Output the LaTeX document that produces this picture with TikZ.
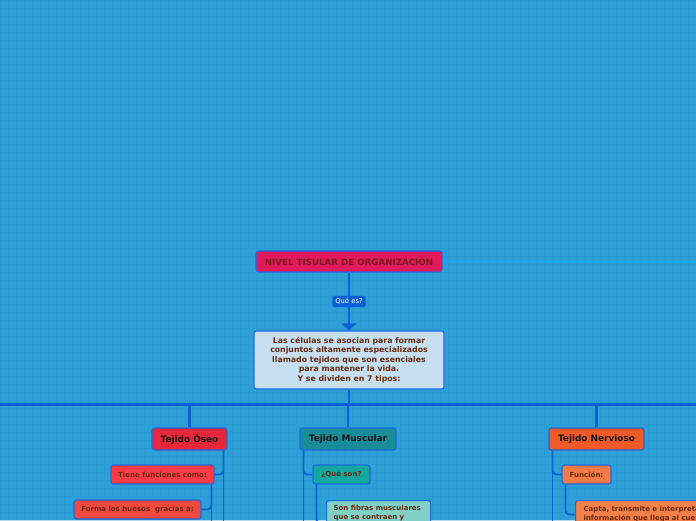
\documentclass[tikz,border=0pt]{standalone}
\usepackage{fontspec}
\setmainfont{DejaVu Sans}
\usetikzlibrary{arrows.meta}

\definecolor{fondo}{RGB}{46,160,216}
\definecolor{cuadro}{RGB}{38,148,206}
\definecolor{borde}{RGB}{30,105,222}
\definecolor{linea}{RGB}{12,96,214}
\definecolor{lineaclara}{RGB}{22,168,242}
\definecolor{tinta}{RGB}{25,20,20}
\definecolor{cafe}{RGB}{105,42,14}
\definecolor{rojizo}{RGB}{122,28,28}
\definecolor{raiz}{RGB}{226,26,92}
\definecolor{celeste}{RGB}{198,224,242}
\definecolor{oseo}{RGB}{232,40,58}
\definecolor{oseoA}{RGB}{255,60,70}
\definecolor{oseoB}{RGB}{240,72,62}
\definecolor{musc}{RGB}{24,140,152}
\definecolor{muscA}{RGB}{16,168,160}
\definecolor{muscB}{RGB}{128,208,200}
\definecolor{nerv}{RGB}{240,90,40}
\definecolor{nervA}{RGB}{242,122,70}
\definecolor{nervB}{RGB}{242,128,72}

\begin{document}
\begin{tikzpicture}[x=1pt,y=-1pt,
    caja/.style={
        draw=borde,
        line width=1.1pt,
        rounded corners=2.5pt,
        inner sep=0pt,
        align=center
    },
    tejido/.style={caja, minimum height=22pt, text=tinta,
        font=\bfseries\fontsize{8.9}{10}\selectfont},
    detalle/.style={caja, minimum height=19pt, text=cafe,
        font=\bfseries\fontsize{7}{9}\selectfont},
    enlace/.style={draw=linea, line width=1.8pt, rounded corners=4pt}
  ]
    % Fondo cuadriculado
    \useasboundingbox (0,0) rectangle (696,520);
    \clip (0,0) rectangle (696,520);
    \fill[fondo] (0,0) rectangle (696,520);
    \draw[cuadro, line width=0.8pt, opacity=0.35, step=8pt] (0,0) grid (696,520);

    % Nodo raiz y descripcion
    \node[caja, fill=raiz, minimum width=186pt, minimum height=21pt, text=rojizo,
          font=\bfseries\fontsize{8.7}{10}\selectfont] (raiz) at (349,261.5)
          {NIVEL TISULAR DE ORGANIZACIÓN};
    \node[caja, fill=celeste, minimum width=190pt, minimum height=58pt, text=cafe,
          font=\bfseries\fontsize{7.8}{9.5}\selectfont] (desc) at (349,360)
          {Las células se asocian para formar\\conjuntos altamente especializados\\llamado tejidos que son esenciales\\para mantener la vida.\\Y se dividen en 7 tipos:};

    % Los tres tejidos visibles
    \node[tejido, fill=oseo, minimum width=75pt] (tOseo) at (189.5,439) {Tejido Óseo};
    \node[tejido, fill=musc, minimum width=96pt] (tMusc) at (348,439) {Tejido Muscular};
    \node[tejido, fill=nerv, minimum width=95pt] (tNerv) at (596.5,439) {Tejido Nervioso};

    % Hijos de cada tejido
    \node[detalle, fill=oseoA, minimum width=103pt] (oFunc) at (162.5,474.5) {Tiene funciones como:};
    \node[detalle, fill=oseoB, minimum width=127pt] (oHues) at (137.5,509.5) {Forma los huesos~ gracias a:};
    \node[detalle, fill=muscA, minimum width=57pt] (mQue) at (341.5,474.5) {¿Qué son?};
    \node[detalle, fill=nervA, minimum width=49pt] (nFunc) at (586.5,474.5) {Función:};
    \node[detalle, fill=muscB, anchor=north west, inner xsep=7pt, inner ysep=5pt] (mFib) at (326,500)
          {\parbox[c][36pt][t]{90pt}{\raggedright Son fibras musculares\\que se contraen y}};
    \node[detalle, fill=nervB, anchor=north west, align=left, inner xsep=8pt, inner ysep=6pt] (nCap) at (575,500)
          {Capta, transmite e interpreta\\información que llega al cuerpo};

    % Extremos libres fuera del cuadro
    \coordinate (raizR) at (696,262);
    \coordinate (busL) at (0,404);
    \coordinate (busR) at (696,404);
    \coordinate (finY) at (0,540);

    % Conexiones
    \draw[lineaclara, line width=1.6pt, -{Triangle[width=8pt,length=5pt]}] (raizR) -- (raiz.east);
    \draw[linea, line width=2.2pt, -{Triangle[width=15pt,length=7pt]}] (raiz) -- (desc)
        node[midway, fill=linea, rounded corners=1.5pt, text=white, inner xsep=3pt, inner ysep=2.5pt,
             font=\fontsize{6.8}{8}\selectfont] (qlab) {Qué es?};
    \draw[linea, line width=2.2pt] (desc.south) -- (desc.south |- busL);
    \draw[linea, line width=3pt] (busL) -- (busR);
    \foreach \t in {tOseo,tMusc,tNerv} {
        \draw[linea, line width=2.2pt] (\t.north |- busL) -- (\t.north);
    }

    % Ramas del tejido oseo
    \draw[enlace] ([xshift=-4pt]tOseo.south east) |- (oFunc.east);
    \draw[enlace] ([xshift=-4pt]tOseo.south east) -- ([xshift=-4pt]tOseo.south east |- finY);
    \draw[enlace] ([xshift=-3pt]oFunc.south east) |- (oHues.east);
    \draw[enlace] ([xshift=-3pt]oFunc.south east) -- ([xshift=-3pt]oFunc.south east |- finY);

    % Ramas del tejido muscular
    \draw[enlace] ([xshift=4pt]tMusc.south west) |- (mQue.west);
    \draw[enlace] ([xshift=4pt]tMusc.south west) -- ([xshift=4pt]tMusc.south west |- finY);
    \draw[enlace] ([xshift=4pt]mQue.south west) |- (mFib.west);

    % Ramas del tejido nervioso
    \draw[enlace] ([xshift=4pt]tNerv.south west) |- (nFunc.west);
    \draw[enlace] ([xshift=4pt]tNerv.south west) -- ([xshift=4pt]tNerv.south west |- finY);
    \draw[enlace] ([xshift=4pt]nFunc.south west) |- (nCap.west);
\end{tikzpicture}
\end{document}
